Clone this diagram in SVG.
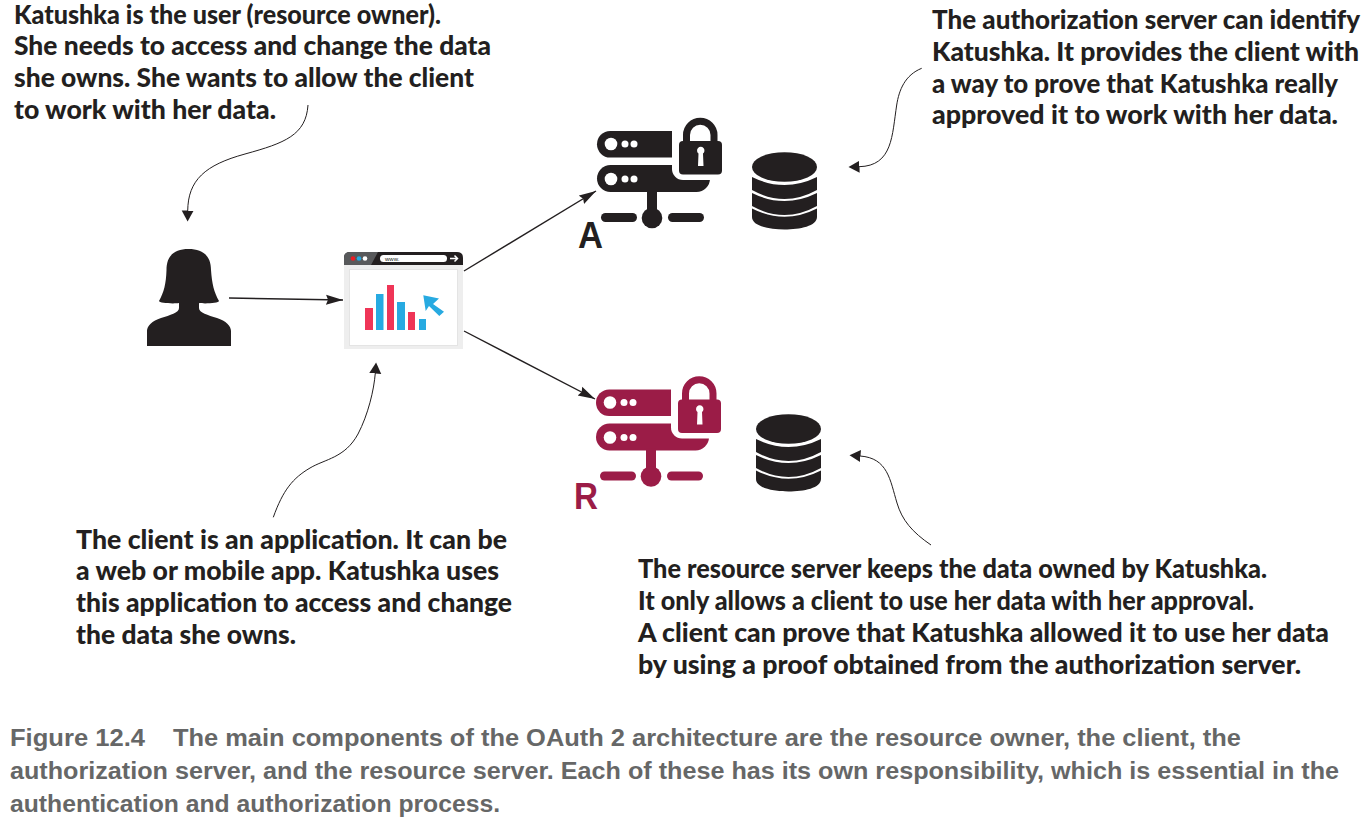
<svg xmlns="http://www.w3.org/2000/svg" xmlns:xlink="http://www.w3.org/1999/xlink" width="1365" height="821" viewBox="0 0 1365 821">
<style>
text{font-family:"Liberation Sans",Arial,sans-serif;font-weight:700}
.n{font-family:Lato,"Liberation Sans",sans-serif;font-weight:900;font-size:26px;fill:#231f20}
.c{font-size:23px;fill:#666767}
.l{font-size:36px}
.e{fill:none;stroke:#231f20;stroke-width:1.4}
.s{fill:none;stroke:#231f20;stroke-width:1}
</style>
<defs>
<marker id="ah" markerUnits="userSpaceOnUse" markerWidth="18" markerHeight="12" refX="17" refY="6" orient="auto"><path d="M0 1L17 6L0 11L2 6Z" fill="#231f20"/></marker>
<marker id="ac" markerUnits="userSpaceOnUse" markerWidth="12" markerHeight="14" refX="0.500" refY="7" orient="auto"><path d="M0 1L11 7L0 13Z" fill="#231f20"/></marker>
<symbol id="srv" overflow="visible" viewBox="0 0 1365 821" width="1365" height="821">
<rect x="597" y="131" width="100" height="26.500" rx="13.200" fill="currentColor"/>
<rect x="597" y="165" width="113" height="27" rx="13.500" fill="currentColor"/>
<rect x="647" y="190" width="10" height="25" fill="currentColor"/>
<rect x="601" y="213" width="36" height="9" rx="4.500" fill="currentColor"/>
<rect x="668" y="213" width="36" height="9" rx="4.500" fill="currentColor"/>
<circle cx="652" cy="218" r="10.300" fill="currentColor"/>
<rect x="672" y="118" width="60" height="62" rx="11" fill="#fff"/>
<g fill="#fff"><circle cx="611" cy="144" r="6.300"/><circle cx="625" cy="144" r="3.500"/><circle cx="634" cy="144" r="3.500"/><circle cx="611" cy="179" r="6.300"/><circle cx="625" cy="179" r="3.500"/><circle cx="634" cy="179" r="3.500"/></g>
<path d="M686.500 142V135A13.750 13.750 0 0 1 714 135V142" fill="none" stroke="currentColor" stroke-width="7"/>
<rect x="679" y="141" width="43" height="33.500" rx="4" fill="currentColor"/>
<path d="M698.500 153.500A3.700 3.700 0 1 1 703 153.500L703.500 166H698Z" fill="#fff"/>
</symbol>
<symbol id="db" overflow="visible" viewBox="0 0 1365 821" width="1365" height="821">
<ellipse cx="784.500" cy="167" rx="32.500" ry="14.800" fill="#231f20"/>
<path d="M752 177Q784.500 193 817 177V190Q784.500 208 752 190Z" fill="#231f20"/>
<path d="M752 193Q784.500 209 817 193V206Q784.500 224 752 206Z" fill="#231f20"/>
<path d="M752 208.500Q784.500 225 817 208.500V217C817 226 800 229.500 784.500 229.500C769 229.500 752 226 752 217Z" fill="#231f20"/>
</symbol>
</defs>
<rect width="1365" height="821" fill="#fff"/>
<g id="connectors">
<path class="e" d="M229 298L343 300" marker-end="url(#ah)"/>
<path class="e" d="M464 271L596 191" marker-end="url(#ah)"/>
<path class="e" d="M464 331L595 399" marker-end="url(#ah)"/>
<path class="s" d="M308 105C306 135 285 143 245 154C205 165 188 180 187.700 211" marker-end="url(#ac)"/>
<path class="s" d="M273.300 517.300C283 490 293 478 310 468C325 459 345 458 358 434C368 415 374 390 375.300 373" marker-end="url(#ac)"/>
<path class="s" d="M921.700 68.300C905 75 899 90 896.700 105C892 135 893 166 859 166.700" marker-end="url(#ac)"/>
<path class="s" d="M931 545C912 532 902 520 897 503C890 480 888 458 860 456" marker-end="url(#ac)"/>
</g>
<g id="resource-owner">
<path d="M188.500 249C203 249 211 256 211 270C212 284 214 292 219 301C219 303 205 304 199 303V308C199 313 208 315 217 318C226 321 231 326 231 331V346H147V331C147 326 152 321 161 318C170 315 179 313 179 308V303C173 304 159 303 159 301C164 292 166 284 166.500 270C166.500 256 174 249 188.500 249Z" fill="#231f20"/>
</g>
<g id="client">
<rect x="344" y="254" width="119" height="95" fill="#eeeeee"/>
<rect x="349.500" y="269.500" width="108" height="76" fill="#fff" stroke="#e4e4e4"/>
<path d="M344 265V258Q344 252 350 252H457Q463 252 463 258V265Z" fill="#231f20"/>
<path d="M344 265V258Q344 252 350 252H378L371 265Z" fill="#58595b"/>
<circle cx="353" cy="258.500" r="2.300" fill="#ed1c24"/><circle cx="359" cy="258.500" r="2.300" fill="#27aae1"/><circle cx="365" cy="258.500" r="2.300" fill="#fff"/>
<rect x="380" y="255" width="67" height="7" rx="3.500" fill="#fff"/>
<text x="385" y="261" style="font-size:6px;font-weight:400;fill:#231f20">www.</text>
<path d="M450 258.500H457M454.500 255.500L457.500 258.500L454.500 261.500" fill="none" stroke="#fff" stroke-width="1.500"/>
<g fill="#ef3557"><rect x="365" y="308" width="8" height="22"/><rect x="387" y="285" width="7" height="45"/><rect x="408" y="312" width="7" height="18"/></g>
<g fill="#27aae1"><rect x="376" y="294" width="7.500" height="36"/><rect x="397" y="302" width="8" height="28"/><rect x="419" y="319" width="7" height="11"/>
<path d="M423.300 295.300L439 298.500L433 304L444 311.700L439.300 316L429 306L425.700 311Z"/></g>
</g>
<g id="authorization-server" color="#231f20">
<use xlink:href="#srv" href="#srv"/>
<use xlink:href="#db" href="#db"/>
<text class="l" x="578" y="248" fill="#231f20" textLength="25" lengthAdjust="spacingAndGlyphs">A</text>
</g>
<g id="resource-server" color="#9b1c47">
<use xlink:href="#srv" href="#srv" x="-1" y="258.500"/>
<use xlink:href="#db" href="#db" x="4" y="262"/>
<text class="l" x="574" y="509" fill="#9b1c47" textLength="24" lengthAdjust="spacingAndGlyphs">R</text>
</g>
<g id="note-owner">
<text class="n" x="14" y="24" textLength="427" lengthAdjust="spacingAndGlyphs">Katushka is the user (resource owner).</text>
<text class="n" x="14" y="55" textLength="477" lengthAdjust="spacingAndGlyphs">She needs to access and change the data</text>
<text class="n" x="14" y="87" textLength="460" lengthAdjust="spacingAndGlyphs">she owns. She wants to allow the client</text>
<text class="n" x="14" y="119" textLength="262" lengthAdjust="spacingAndGlyphs">to work with her data.</text>
</g>
<g id="note-auth">
<text class="n" x="932" y="29" textLength="428" lengthAdjust="spacingAndGlyphs">The authorization server can identify</text>
<text class="n" x="932" y="61" textLength="427" lengthAdjust="spacingAndGlyphs">Katushka. It provides the client with</text>
<text class="n" x="932" y="93" textLength="406" lengthAdjust="spacingAndGlyphs">a way to prove that Katushka really</text>
<text class="n" x="932" y="124" textLength="406" lengthAdjust="spacingAndGlyphs">approved it to work with her data.</text>
</g>
<g id="note-client">
<text class="n" x="76" y="549" textLength="431" lengthAdjust="spacingAndGlyphs">The client is an application. It can be</text>
<text class="n" x="76" y="580" textLength="423" lengthAdjust="spacingAndGlyphs">a web or mobile app. Katushka uses</text>
<text class="n" x="76" y="612" textLength="436" lengthAdjust="spacingAndGlyphs">this application to access and change</text>
<text class="n" x="76" y="644" textLength="220" lengthAdjust="spacingAndGlyphs">the data she owns.</text>
</g>
<g id="note-resource">
<text class="n" x="638" y="578" textLength="629" lengthAdjust="spacingAndGlyphs">The resource server keeps the data owned by Katushka.</text>
<text class="n" x="638" y="610" textLength="616" lengthAdjust="spacingAndGlyphs">It only allows a client to use her data with her approval.</text>
<text class="n" x="638" y="642" textLength="691" lengthAdjust="spacingAndGlyphs">A client can prove that Katushka allowed it to use her data</text>
<text class="n" x="638" y="674" textLength="663" lengthAdjust="spacingAndGlyphs">by using a proof obtained from the authorization server.</text>
</g>
<g id="caption">
<text class="c" x="10" y="746" textLength="135" lengthAdjust="spacingAndGlyphs">Figure 12.4</text>
<text class="c" x="173" y="746" textLength="1068" lengthAdjust="spacingAndGlyphs">The main components of the OAuth 2 architecture are the resource owner, the client, the</text>
<text class="c" x="10" y="779" textLength="1329" lengthAdjust="spacingAndGlyphs">authorization server, and the resource server. Each of these has its own responsibility, which is essential in the</text>
<text class="c" x="10" y="812" textLength="490" lengthAdjust="spacingAndGlyphs">authentication and authorization process.</text>
</g>
</svg>
